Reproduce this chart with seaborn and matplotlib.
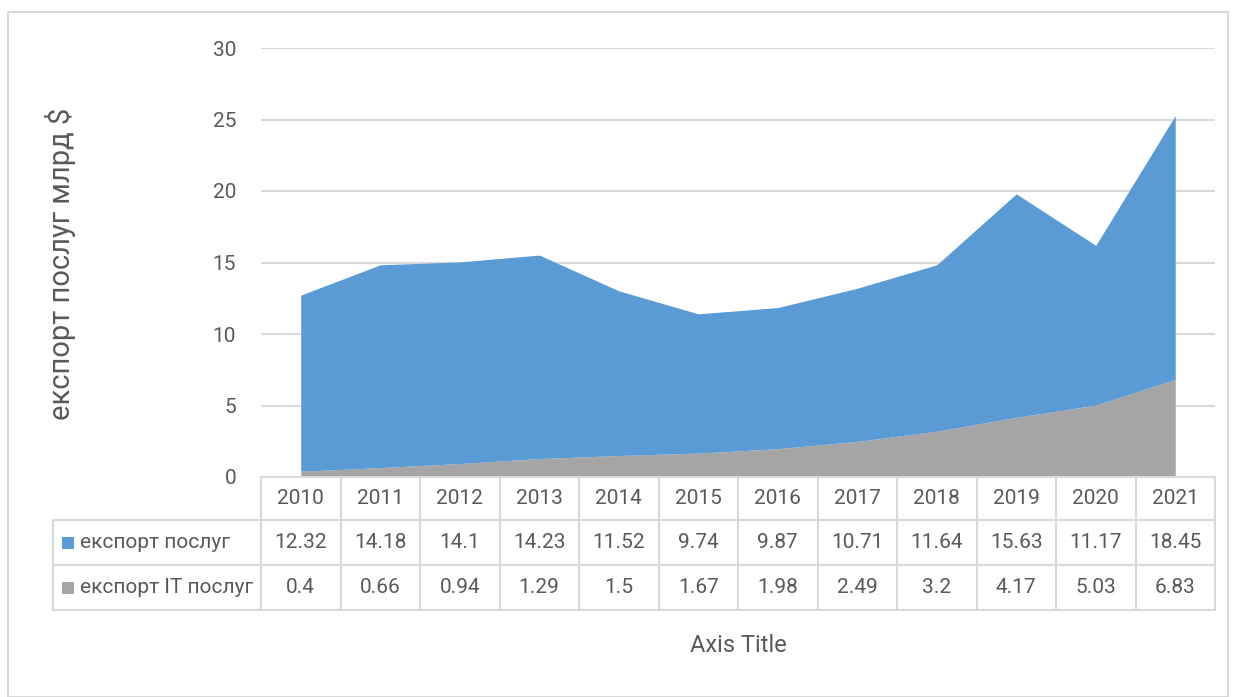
import matplotlib
matplotlib.use("Agg")
import matplotlib.pyplot as plt
import matplotlib.transforms as mtransforms
from matplotlib.patches import Rectangle
import seaborn as sns
import pandas as pd

# Дані
years = [2010, 2011, 2012, 2013, 2014, 2015, 2016, 2017, 2018, 2019, 2020, 2021]
export_services = [12.32, 14.18, 14.1, 14.23, 11.52, 9.74, 9.87, 10.71, 11.64, 15.63, 11.17, 18.45]
export_it = [0.4, 0.66, 0.94, 1.29, 1.5, 1.67, 1.98, 2.49, 3.2, 4.17, 5.03, 6.83]
series_names = ["експорт послуг", "експорт IT послуг"]
y_ticks = [0, 5, 10, 15, 20, 25, 30]

BLUE = "#5B9BD5"
GRAY = "#A5A5A5"
TXT = "#595959"
LINE = "#D9D9D9"

sns.set_theme(style="white")
plt.rcParams['font.family'] = ['Roboto', 'DejaVu Sans']

df = pd.DataFrame({"year": years, "services": export_services, "it": export_it})
df["pos"] = range(len(df))

fig = plt.figure(figsize=(12.33, 6.97), dpi=100)
ax = fig.add_axes([261 / 1233, 1 - 477 / 697, 954 / 1233, 429 / 697])

# накопичена площа: IT знизу, послуги зверху
ax.stackplot(df["pos"], df["it"], df["services"], colors=[GRAY, BLUE], linewidth=0, zorder=2)

ax.set_xlim(-0.5, len(years) - 0.5)
ax.set_ylim(0, 30)
ax.set_yticks(y_ticks)
ax.set_yticklabels([str(v) for v in y_ticks], fontsize=15, color=TXT)
ax.tick_params(axis="y", length=0, pad=18)
ax.set_xticks([])
ax.grid(axis="y", color=LINE, linewidth=1.5, zorder=0)
for s in ax.spines.values():
    s.set_visible(False)

# таблиця даних під графіком
blend = mtransforms.blended_transform_factory(ax.transData, ax.transAxes)
rows = [0, -43 / 429, -88 / 429, -133 / 429]
left = -208 / 954
lkw = dict(color=LINE, linewidth=1.5, clip_on=False)

ax.plot([-0.5, len(years) - 0.5], [rows[0], rows[0]], transform=blend, **lkw)
for r in rows[1:]:
    ax.plot([left, 1], [r, r], transform=ax.transAxes, **lkw)
for i in range(len(years) + 1):
    ax.plot([i - 0.5, i - 0.5], [rows[0], rows[3]], transform=blend, **lkw)
ax.plot([left, left], [rows[1], rows[3]], transform=ax.transAxes, **lkw)

for i, yr in enumerate(years):
    ax.text(i, (rows[0] + rows[1]) / 2, str(yr), transform=blend, ha="center", va="center",
            fontsize=15, color=TXT)
    ax.text(i, (rows[1] + rows[2]) / 2, f"{export_services[i]:g}", transform=blend, ha="center",
            va="center", fontsize=15, color=TXT)
    ax.text(i, (rows[2] + rows[3]) / 2, f"{export_it[i]:g}", transform=blend, ha="center",
            va="center", fontsize=15, color=TXT)

for k, (name, col) in enumerate(zip(series_names, [BLUE, GRAY])):
    yc = (rows[k + 1] + rows[k + 2]) / 2
    ax.add_patch(Rectangle((-199 / 954, yc - 6 / 429), 12 / 954, 12 / 429, transform=ax.transAxes,
                           facecolor=col, edgecolor="none", clip_on=False))
    ax.text(-181 / 954, yc, name, transform=ax.transAxes, ha="left", va="center",
            fontsize=15, color=TXT)

# підписи осей
fig.text(738 / 1233, 1 - 645 / 697, "Axis Title", ha="center", va="center", fontsize=17, color=TXT)
fig.text(60 / 1233, 1 - 264 / 697, "експорт послуг млрд $", ha="center", va="center",
         rotation=90, fontsize=21, color=TXT)

# рамка діаграми
fig.patches.append(Rectangle((8 / 1233, 0), 1220 / 1233, 1 - 12 / 697, transform=fig.transFigure,
                             facecolor="none", edgecolor=LINE, linewidth=1.5))

fig.savefig("out.png", dpi=100)
